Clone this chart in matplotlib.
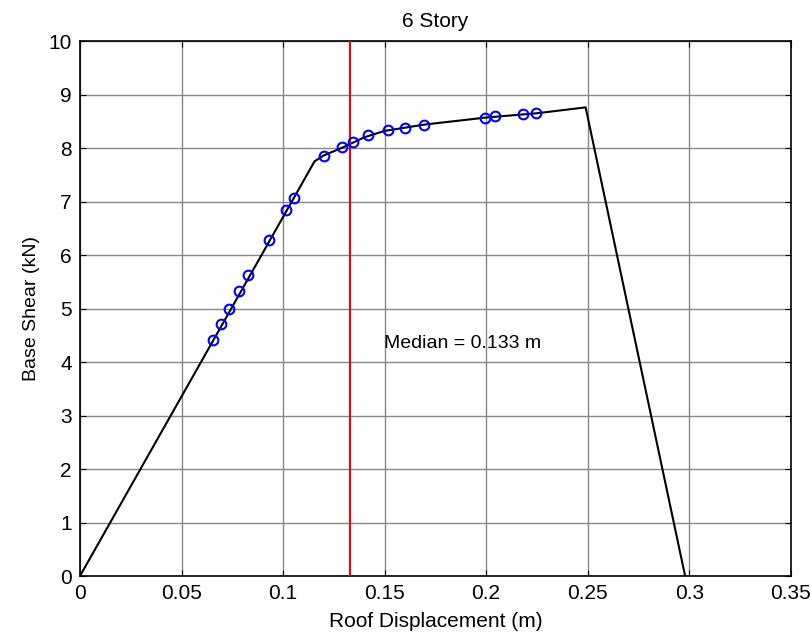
import matplotlib
matplotlib.use("Agg")
import matplotlib.pyplot as plt

plt.rcParams['font.family'] = ['Liberation Sans', 'DejaVu Sans']

# pushover curve
curve_x = [0, 0.1155, 0.12, 0.13, 0.14, 0.15, 0.17, 0.2, 0.225, 0.249, 0.298]
curve_y = [0, 7.75, 7.86, 8.02, 8.2, 8.32, 8.44, 8.57, 8.65, 8.76, 0]

# record points
pts_x = [0.0653, 0.0696, 0.0733, 0.0784, 0.0829, 0.0929, 0.1013, 0.1052, 0.1201,
         0.1291, 0.1345, 0.1419, 0.1518, 0.160, 0.1693, 0.1995, 0.2046, 0.2182, 0.2248]
pts_y = [4.42, 4.71, 4.99, 5.33, 5.62, 6.29, 6.85, 7.07, 7.86,
         8.01, 8.12, 8.24, 8.34, 8.38, 8.43, 8.57, 8.59, 8.64, 8.65]

median = 0.133

fig = plt.figure(figsize=(8.11, 6.36), dpi=100)
ax = fig.add_axes([0.0986, 0.0943, 0.8764, 0.8412])

ax.plot(curve_x, curve_y, color='black', lw=1.5, zorder=3)
ax.plot(pts_x, pts_y, 'o', mfc='none', mec='blue', ms=7, mew=1.5, zorder=4)
ax.axvline(median, color='red', lw=1.5, zorder=3)
ax.text(0.1497, 4.35, 'Median = %.3f m' % median, fontsize=14, va='center')

ax.set_xlim(0, 0.35)
ax.set_ylim(0, 10)
ax.set_xticks([0, 0.05, 0.1, 0.15, 0.2, 0.25, 0.3, 0.35])
ax.set_xticklabels(['0', '0.05', '0.1', '0.15', '0.2', '0.25', '0.3', '0.35'])
ax.set_yticks(range(0, 11))
ax.grid(True, color='#888888', lw=1)
ax.tick_params(direction='in', top=True, right=True, labelsize=15, length=4, pad=6)
for s in ax.spines.values():
    s.set_linewidth(1.2)

ax.set_title('6 Story', fontsize=15, pad=10)
ax.set_xlabel('Roof Displacement (m)', fontsize=15, labelpad=6)
ax.set_ylabel('Base Shear (kN)', fontsize=14, labelpad=6)

fig.savefig('out.png', dpi=100)
